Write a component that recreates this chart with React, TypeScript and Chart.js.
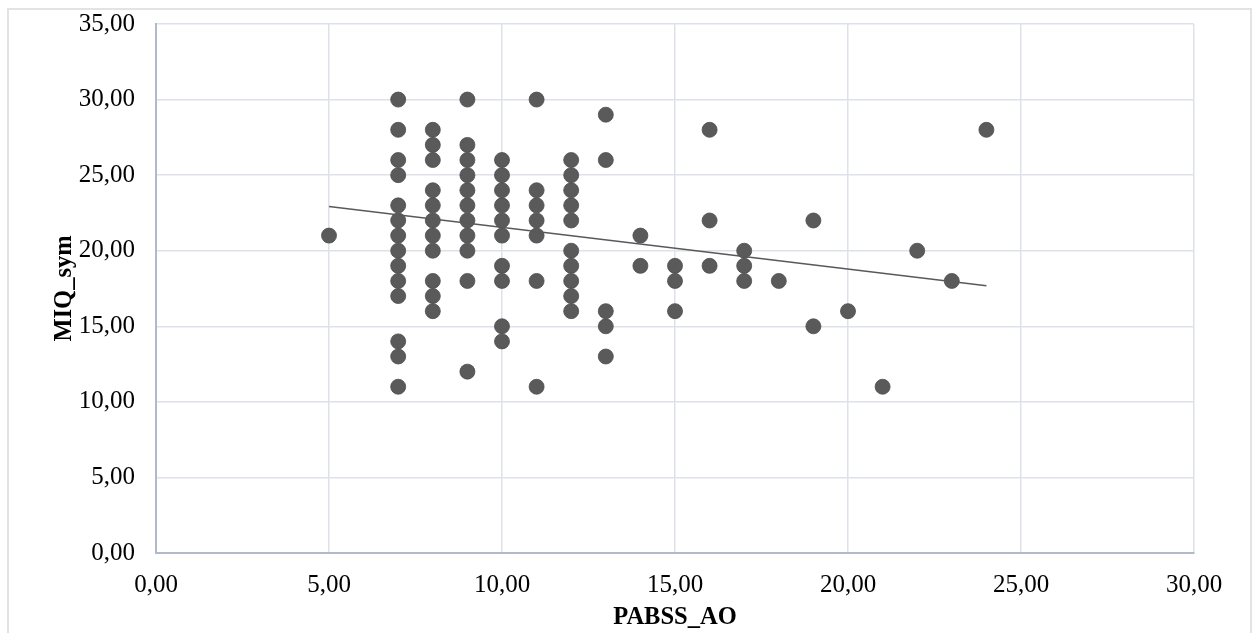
import React, { useEffect, useRef } from "react";
import { Chart, registerables } from "chart.js";

Chart.register(...registerables);

// PABSS_AO (x) and MIQ_sym (y) observations
const pointsX: number[] = [
  5,
  7, 7, 7, 7, 7, 7, 7, 7, 7, 7, 7, 7, 7, 7,
  8, 8, 8, 8, 8, 8, 8, 8, 8, 8, 8,
  9, 9, 9, 9, 9, 9, 9, 9, 9, 9, 9,
  10, 10, 10, 10, 10, 10, 10, 10, 10, 10,
  11, 11, 11, 11, 11, 11, 11,
  12, 12, 12, 12, 12, 12, 12, 12, 12, 12,
  13, 13, 13, 13, 13,
  14, 14,
  15, 15, 15,
  16, 16, 16,
  17, 17, 17,
  18,
  19, 19,
  20,
  21,
  22,
  23,
  24,
];
const pointsY: number[] = [
  21,
  30, 28, 26, 25, 23, 22, 21, 20, 19, 18, 17, 14, 13, 11,
  28, 27, 26, 24, 23, 22, 21, 20, 18, 17, 16,
  30, 27, 26, 25, 24, 23, 22, 21, 20, 18, 12,
  26, 25, 24, 23, 22, 21, 19, 18, 15, 14,
  30, 24, 23, 22, 21, 18, 11,
  26, 25, 24, 23, 22, 20, 19, 18, 17, 16,
  29, 26, 16, 15, 13,
  21, 19,
  19, 18, 16,
  28, 22, 19,
  20, 19, 18,
  18,
  22, 15,
  16,
  11,
  20,
  18,
  28,
];

// linear trendline endpoints
const trendX: number[] = [5, 24];
const trendY: number[] = [22.92, 17.68];

const xTicks: number[] = [0, 5, 10, 15, 20, 25, 30];
const yTicks: number[] = [0, 5, 10, 15, 20, 25, 30, 35];

const xTitle = "PABSS_AO";
const yTitle = "MIQ_sym";

const fmt = (v: number) => v.toFixed(2).replace(".", ",");

export default function App() {
  const ref = useRef<HTMLCanvasElement | null>(null);

  useEffect(() => {
    if (!ref.current) return;
    const font = "'Liberation Serif', 'Times New Roman', serif";
    const chart = new Chart(ref.current, {
      type: "scatter",
      data: {
        datasets: [
          {
            type: "line",
            data: trendX.map((x, i) => ({ x, y: trendY[i] })),
            borderColor: "#595959",
            borderWidth: 1.6,
            pointRadius: 0,
            fill: false,
            order: 0,
          } as any,
          {
            data: pointsX.map((x, i) => ({ x, y: pointsY[i] })),
            backgroundColor: "#5a5a5a",
            borderColor: "#4d4d4d",
            borderWidth: 0.8,
            pointRadius: 7.5,
            pointHoverRadius: 7.5,
            order: 1,
          },
        ],
      },
      options: {
        responsive: false,
        animation: false,
        events: [],
        layout: { padding: { left: 0, top: 24, right: 60, bottom: 0 } },
        plugins: {
          legend: { display: false },
          tooltip: { enabled: false },
        },
        scales: {
          x: {
            type: "linear",
            min: 0,
            max: 30,
            afterBuildTicks: (s: any) => {
              s.ticks = xTicks.map((v) => ({ value: v }));
            },
            afterFit: (s: any) => {
              s.height = 80;
              s.paddingLeft = 0;
              s.paddingRight = 0;
            },
            ticks: {
              padding: 17,
              color: "#000",
              font: { family: font, size: 25 },
              callback: (v: any) => fmt(Number(v)),
            },
            grid: { color: "#dde2ea", lineWidth: 1.5, drawTicks: false },
            border: { color: "#b0bacb", width: 2 },
            title: {
              display: true,
              text: xTitle,
              color: "#000",
              font: { family: font, size: 24.5, weight: "bold" },
              padding: { top: 0, bottom: 1 },
            },
          },
          y: {
            type: "linear",
            min: 0,
            max: 35,
            afterBuildTicks: (s: any) => {
              s.ticks = yTicks.map((v) => ({ value: v }));
            },
            afterFit: (s: any) => {
              s.width = 156;
              s.paddingTop = 0;
              s.paddingBottom = 0;
            },
            ticks: {
              padding: 21,
              color: "#000",
              font: { family: font, size: 25 },
              callback: (v: any) => fmt(Number(v)),
            },
            grid: { color: "#dde2ea", lineWidth: 1.5, drawTicks: false },
            border: { color: "#b0bacb", width: 2 },
            title: {
              display: true,
              text: yTitle,
              color: "#000",
              font: { family: font, size: 24.5, weight: "bold" },
              padding: { top: 50, bottom: 0 },
            },
          },
        },
      },
    } as any);
    return () => chart.destroy();
  }, []);

  return (
    <div style={{ position: "absolute", left: 0, top: 0, width: 1254, height: 633, overflow: "hidden", background: "#fff" }}>
      <div
        style={{
          position: "absolute",
          left: 7,
          top: 8,
          width: 1245,
          height: 640,
          border: "2px solid #e3e3e3",
          boxSizing: "border-box",
        }}
      />
      <canvas ref={ref} width={1254} height={633} style={{ position: "absolute", left: 0, top: 0 }} />
    </div>
  );
}
